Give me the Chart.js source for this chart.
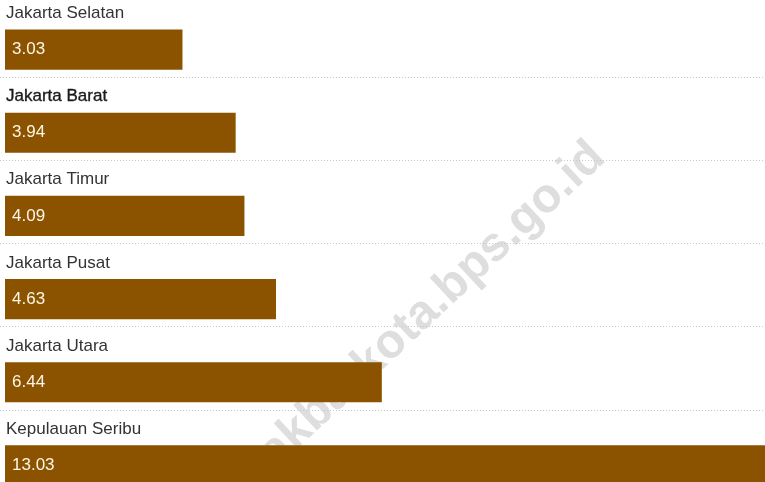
<!DOCTYPE html>
<html>
<head>
<meta charset="utf-8">
<script src="https://cdn.jsdelivr.net/npm/chart.js@4.4.1/dist/chart.umd.min.js"></script>
<style>
  html, body { margin: 0; padding: 0; background: #fff; overflow: hidden; height: 482px; }
  #wrap { position: relative; width: 765px; height: 507px; }
</style>
</head>
<body>
<div id="wrap"><canvas id="barChart"></canvas></div>
<script>
// data
const regions = ['Jakarta Selatan', 'Jakarta Barat', 'Jakarta Timur', 'Jakarta Pusat', 'Jakarta Utara', 'Kepulauan Seribu'];
const rates = [3.03, 3.94, 4.09, 4.63, 6.44, 13.03];
const highlighted = 'Jakarta Barat';

const watermark = 'www.jakbarkota.bps.go.id';
const barColor = '#8b5300';
const fontFamily = '"Liberation Sans", Arial, Helvetica, sans-serif';

// watermark + dotted separators go behind the bars
const backdrop = {
  id: 'backdrop',
  beforeDatasetsDraw(chart) {
    const ctx = chart.ctx;
    ctx.save();
    ctx.translate(607, 160);
    ctx.rotate(-43 * Math.PI / 180);
    ctx.font = 'bold 48px ' + fontFamily;
    ctx.fillStyle = '#dedede';
    ctx.textAlign = 'right';
    ctx.textBaseline = 'alphabetic';
    ctx.fillText(watermark, 0, 0);
    ctx.restore();

    const bars = chart.getDatasetMeta(0).data;
    ctx.save();
    ctx.strokeStyle = '#c8c8c8';
    ctx.lineWidth = 1;
    ctx.setLineDash([1, 2]);
    bars.forEach(function(bar) {
      const y = Math.round(bar.y + bar.height / 2 + 7.5) + 0.5;
      ctx.beginPath();
      ctx.moveTo(0, y);
      ctx.lineTo(chart.width, y);
      ctx.stroke();
    });
    ctx.restore();
  },
  afterDatasetsDraw(chart) {
    const ctx = chart.ctx;
    const bars = chart.getDatasetMeta(0).data;
    ctx.save();
    ctx.textBaseline = 'middle';
    ctx.textAlign = 'left';
    bars.forEach(function(bar, i) {
      // category name above the bar
      ctx.font = '17px ' + fontFamily;
      const ly = bar.y - bar.height / 2 - 16.5;
      if (regions[i] === highlighted) {
        ctx.fillStyle = '#1a1a1a';
        ctx.strokeStyle = '#1a1a1a';
        ctx.lineWidth = 0.35;
        ctx.strokeText(regions[i], 6, ly);
      } else {
        ctx.fillStyle = '#333';
      }
      ctx.fillText(regions[i], 6, ly);
      // value inside the bar
      ctx.fillStyle = '#fdf6e6';
      ctx.fillText(rates[i].toFixed(2), 12, bar.y);
    });
    ctx.restore();
  }
};

const ctx = document.getElementById('barChart').getContext('2d');
const barChart = new Chart(ctx, {
  type: 'bar',
  data: {
    labels: regions,
    datasets: [{
      data: rates,
      backgroundColor: barColor,
      borderWidth: 0,
      barThickness: 39.5
    }]
  },
  options: {
    indexAxis: 'y',
    responsive: true,
    maintainAspectRatio: false,
    animation: false,
    layout: { padding: { left: 5, right: 0, top: 8, bottom: 0 } },
    scales: {
      x: { display: false, min: 0, max: 13, grid: { display: false } },
      y: { display: false, grid: { display: false } }
    },
    plugins: {
      legend: { display: false },
      tooltip: { enabled: false }
    }
  },
  plugins: [backdrop]
});
</script>
</body>
</html>
